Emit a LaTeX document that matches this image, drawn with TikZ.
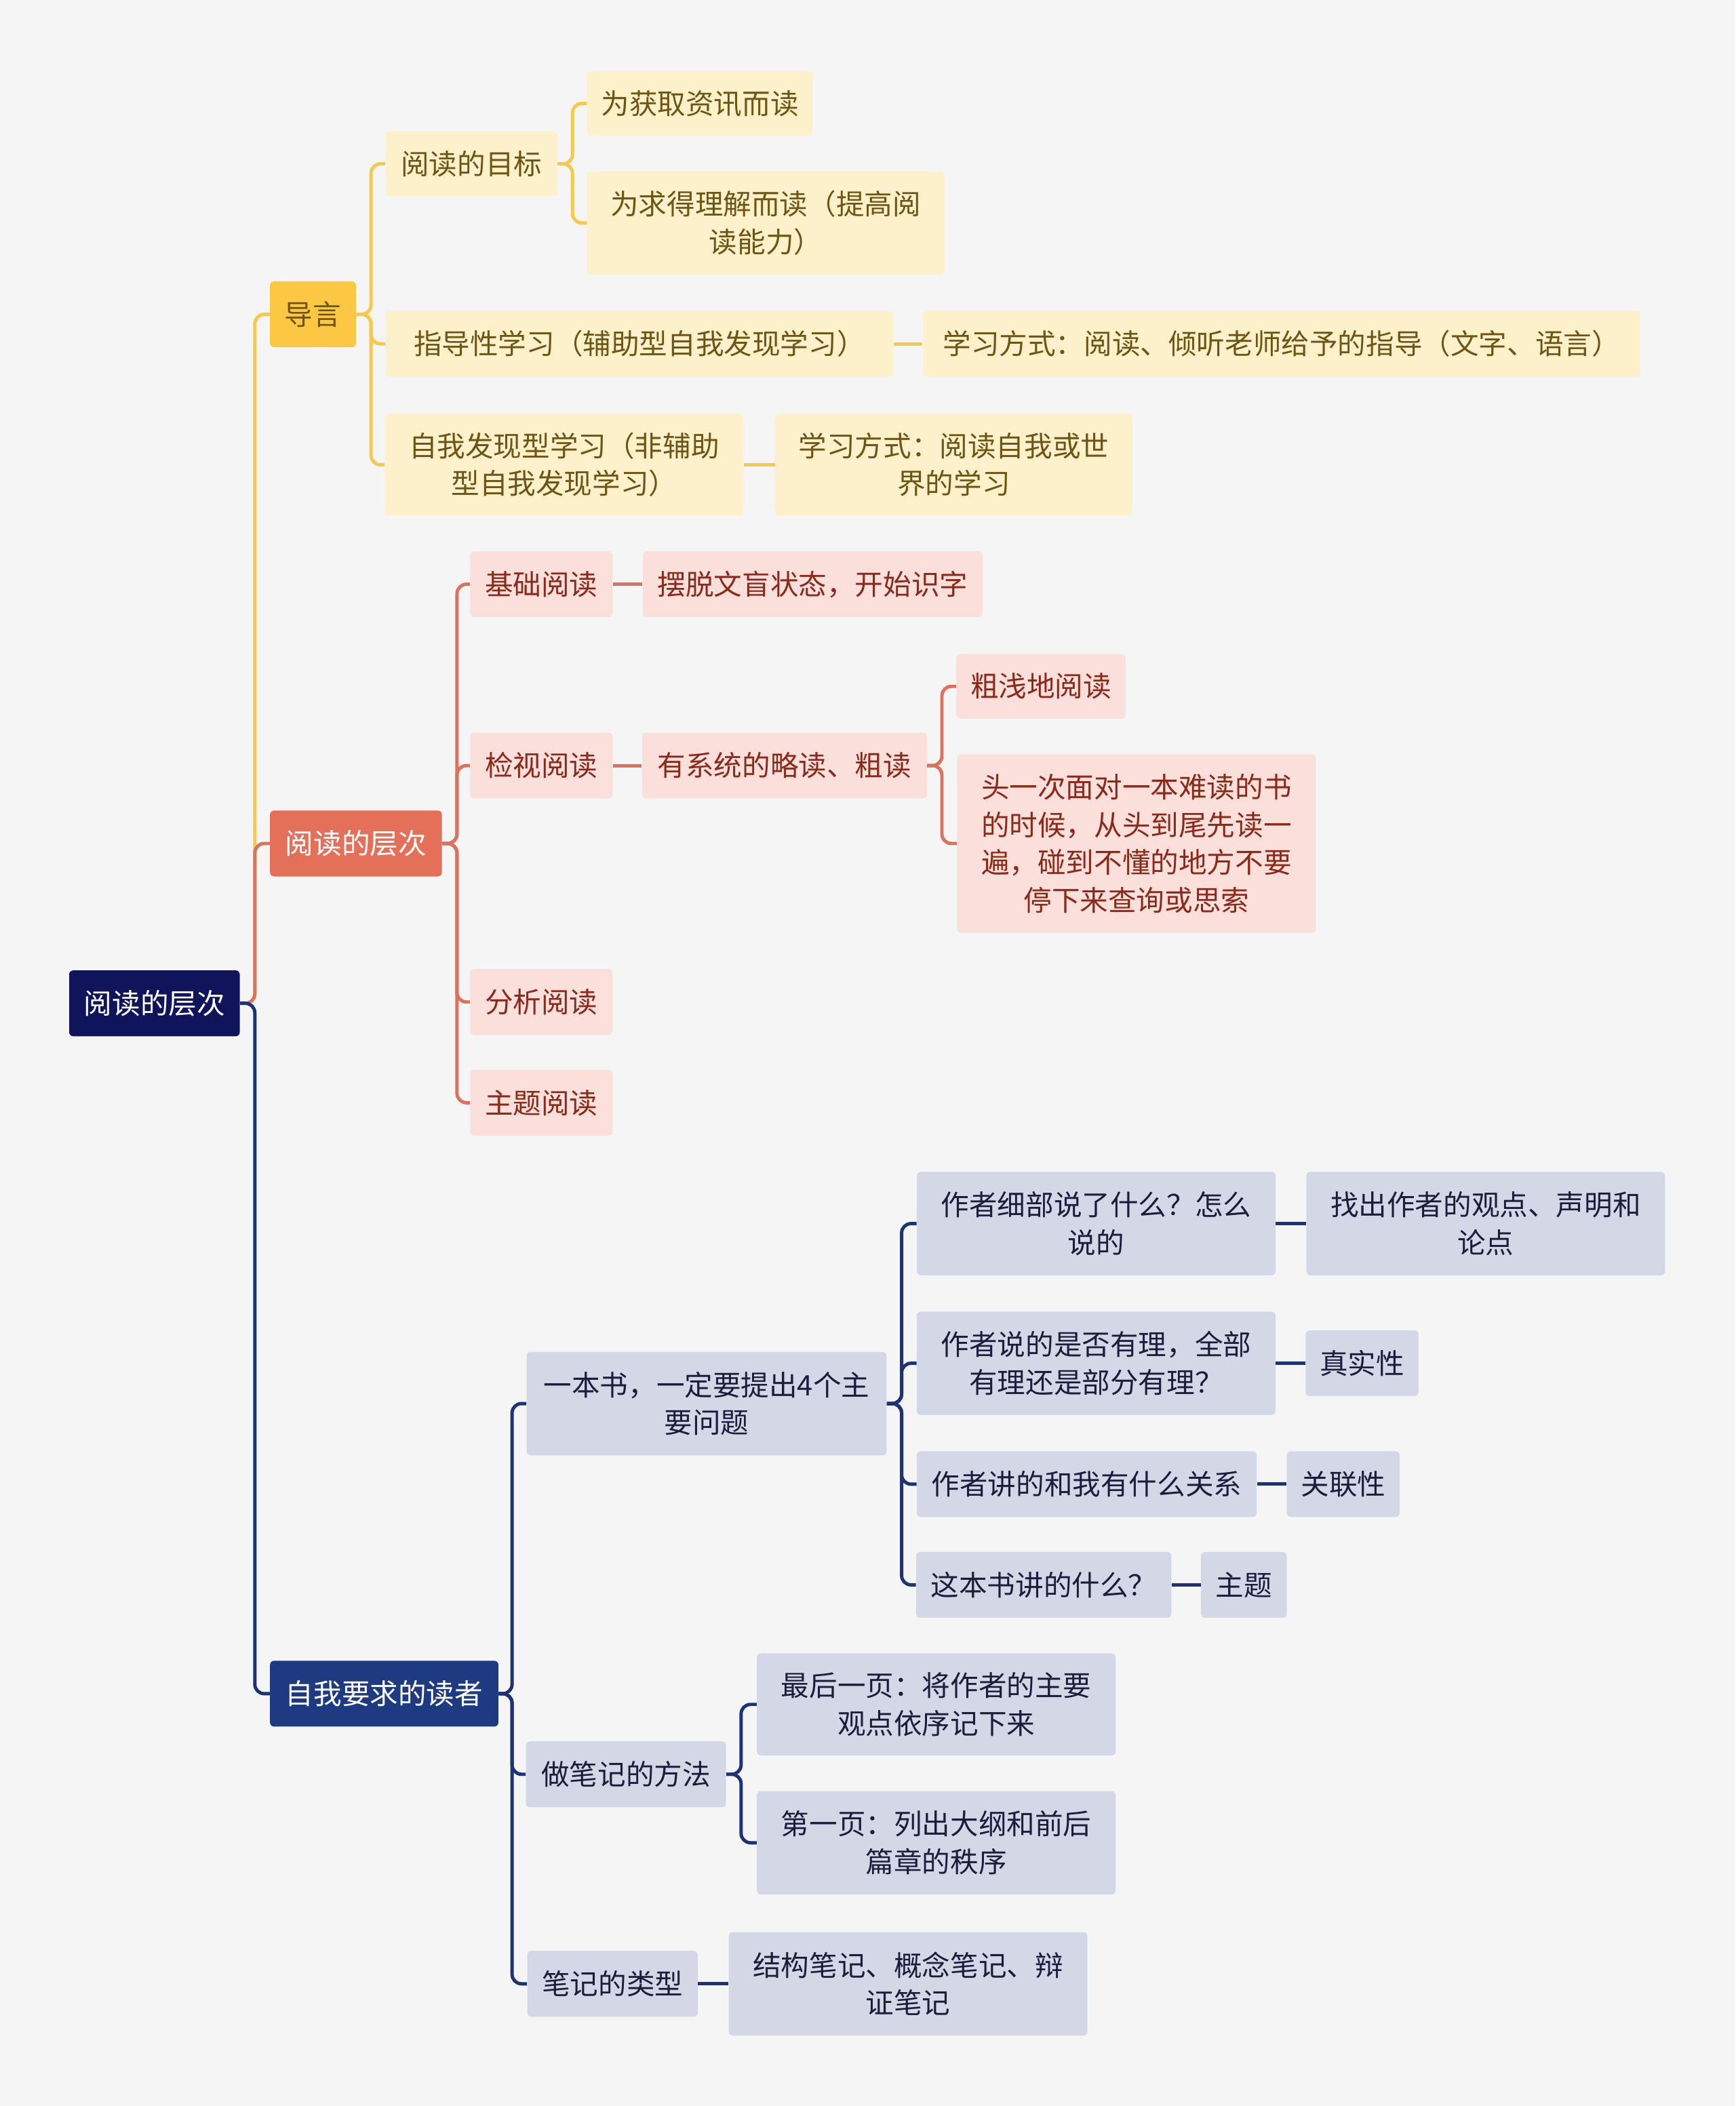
\documentclass[tikz,border=0pt]{standalone}
\usepackage{fontspec}
\setmainfont{Noto Sans CJK SC}
\begin{document}
\begin{tikzpicture}[x=1pt,y=-1pt,
  every node/.style={font=\fontsize{21}{28}\selectfont, align=center, inner sep=0pt, rounded corners=3pt},
  sz/.style 2 args={minimum width=#1pt, minimum height=#2pt},
  rootn/.style={fill=rootc, text=white},
  ym/.style={fill=ymain, text=ytext},
  yc/.style={fill=ychild, text=ytext},
  rm/.style={fill=rmain, text=white},
  rc/.style={fill=rchild, text=rtext},
  bm/.style={fill=bmain, text=white},
  bc/.style={fill=bchild, text=btext},
  yl/.style={draw=yline, line width=2.5pt, rounded corners=7pt},
  rl/.style={draw=rline, line width=2.5pt, rounded corners=7pt},
  bl/.style={draw=bline, line width=2.5pt, rounded corners=7pt}]
\definecolor{bg}{HTML}{F5F5F5}
\definecolor{rootc}{HTML}{10145A}
\definecolor{ymain}{HTML}{FCC843}
\definecolor{ychild}{HTML}{FDF1CC}
\definecolor{ytext}{HTML}{6E5514}
\definecolor{yline}{HTML}{F5C94A}
\definecolor{rmain}{HTML}{E5705A}
\definecolor{rchild}{HTML}{FADFDA}
\definecolor{rtext}{HTML}{8B2A1A}
\definecolor{rline}{HTML}{DB725E}
\definecolor{bmain}{HTML}{1E3A80}
\definecolor{bchild}{HTML}{D4D8E6}
\definecolor{btext}{HTML}{1A1E3C}
\definecolor{bline}{HTML}{1E3375}
\fill[bg] (0,0) rectangle (1292,1568);
\useasboundingbox (0,0) rectangle (1292,1568);

\node[rootn,sz={127}{49}] (root) at (115,747) {阅读的层次};
\node[ym,sz={64}{49}] (a) at (233,234) {导言};
\node[rm,sz={128}{49}] (b) at (265,628) {阅读的层次};
\node[bm,sz={170}{49}] (c) at (286,1261) {自我要求的读者};

\node[yc,sz={128}{48}] (a1) at (351,122) {阅读的目标};
\node[yc,sz={168}{48}] (a11) at (521,77) {为获取资讯而读};
\node[yc,sz={266}{77}] (a12) at (570,166) {为求得理解而读（提高阅\\读能力）};
\node[yc,sz={378}{49}] (a2) at (476,256) {指导性学习（辅助型自我发现学习）};
\node[yc,sz={534}{49}] (a21) at (954,256) {学习方式：阅读、倾听老师给予的指导（文字、语言）};
\node[yc,sz={267}{76}] (a3) at (420,346) {自我发现型学习（非辅助\\型自我发现学习）};
\node[yc,sz={266}{76}] (a31) at (710,346) {学习方式：阅读自我或世\\界的学习};

\node[rc,sz={106}{49}] (b1) at (403,435) {基础阅读};
\node[rc,sz={253}{49}] (b11) at (605,435) {摆脱文盲状态，开始识字};
\node[rc,sz={106}{49}] (b2) at (403,570) {检视阅读};
\node[rc,sz={212}{49}] (b21) at (584,570) {有系统的略读、粗读};
\node[rc,sz={126}{48}] (b211) at (775,511) {粗浅地阅读};
\node[rc,sz={267}{133}] (b212) at (846,628) {头一次面对一本难读的书\\的时候，从头到尾先读一\\遍，碰到不懂的地方不要\\停下来查询或思索};
\node[rc,sz={106}{49}] (b3) at (403,746) {分析阅读};
\node[rc,sz={106}{49}] (b4) at (403,821) {主题阅读};

\node[bc,sz={268}{77}] (c1) at (526,1045) {一本书，一定要提出4个主\\要问题};
\node[bc,sz={267}{77}] (c11) at (816,911) {作者细部说了什么？怎么\\说的};
\node[bc,sz={267}{77}] (c111) at (1106,911) {找出作者的观点、声明和\\论点};
\node[bc,sz={267}{77}] (c12) at (816,1015) {作者说的是否有理，全部\\有理还是部分有理？};
\node[bc,sz={84}{49}] (c121) at (1014,1015) {真实性};
\node[bc,sz={253}{49}] (c13) at (809,1105) {作者讲的和我有什么关系};
\node[bc,sz={84}{49}] (c131) at (1000,1105) {关联性};
\node[bc,sz={190}{49}] (c14) at (777,1180) {这本书讲的什么？};
\node[bc,sz={64}{49}] (c141) at (926,1180) {主题};
\node[bc,sz={149}{49}] (c2) at (466,1321) {做笔记的方法};
\node[bc,sz={267}{76}] (c21) at (697,1269) {最后一页：将作者的主要\\观点依序记下来};
\node[bc,sz={267}{77}] (c22) at (697,1372) {第一页：列出大纲和前后\\篇章的秩序};
\node[bc,sz={127}{49}] (c3) at (456,1477) {笔记的类型};
\node[bc,sz={267}{77}] (c31) at (676,1477) {结构笔记、概念笔记、辩\\证笔记};

\draw[yl] (root.east) -- ++(11,0) |- (a.west);
\draw[rl] (root.east) -- ++(11,0) |- (b.west);
\draw[bl] (root.east) -- ++(11,0) |- (c.west);

\foreach \t in {a1,a2,a3} \draw[yl] (a.east) -- ++(11,0) |- (\t.west);
\foreach \t in {a11,a12} \draw[yl] (a1.east) -- ++(11,0) |- (\t.west);
\draw[yl] (a2.east) -- (a21.west);
\draw[yl] (a3.east) -- (a31.west);

\foreach \t in {b1,b2,b3,b4} \draw[rl] (b.east) -- ++(11,0) |- (\t.west);
\draw[rl] (b1.east) -- (b11.west);
\draw[rl] (b2.east) -- (b21.west);
\foreach \t in {b211,b212} \draw[rl] (b21.east) -- ++(11,0) |- (\t.west);

\foreach \t in {c1,c2,c3} \draw[bl] (c.east) -- ++(10,0) |- (\t.west);
\foreach \t in {c11,c12,c13,c14} \draw[bl] (c1.east) -- ++(11,0) |- (\t.west);
\draw[bl] (c11.east) -- (c111.west);
\draw[bl] (c12.east) -- (c121.west);
\draw[bl] (c13.east) -- (c131.west);
\draw[bl] (c14.east) -- (c141.west);
\foreach \t in {c21,c22} \draw[bl] (c2.east) -- ++(11,0) |- (\t.west);
\draw[bl] (c3.east) -- (c31.west);
\end{tikzpicture}
\end{document}
